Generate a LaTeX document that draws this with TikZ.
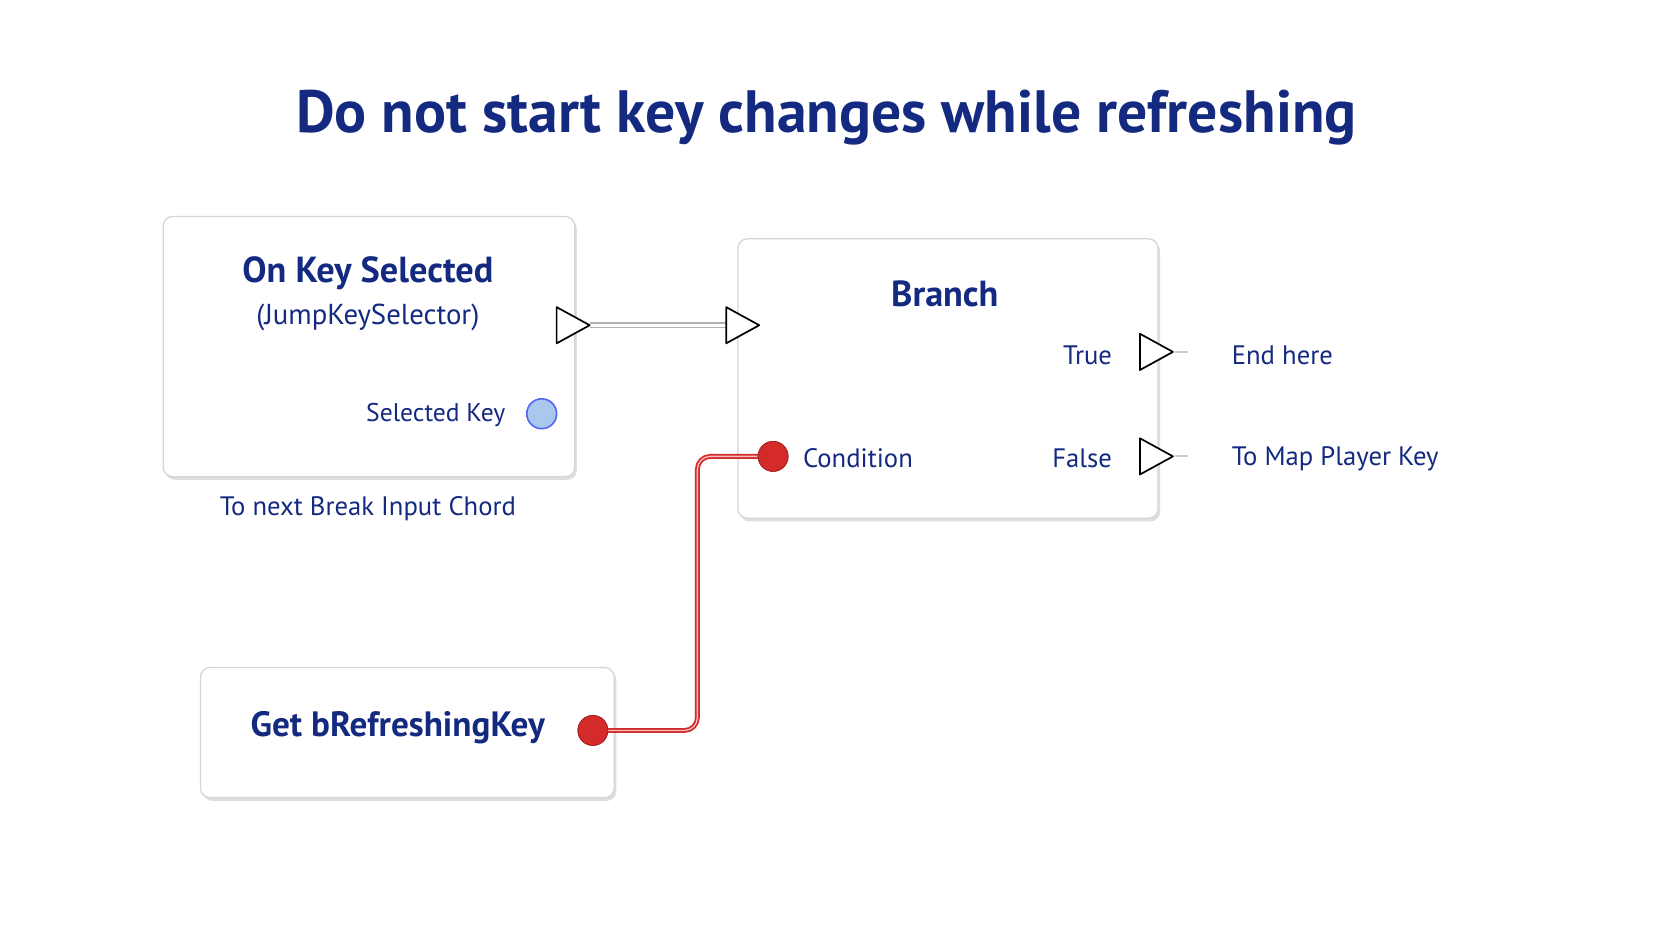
\documentclass[tikz,border=0pt]{standalone}
\usepackage{fontspec}
\setmainfont{PT Sans}
\usetikzlibrary{shadows}
\definecolor{navy}{HTML}{142A80}
\definecolor{pinred}{HTML}{D42A2A}
\definecolor{pinblue}{HTML}{A9C8EE}
\definecolor{bord}{HTML}{D4D6DC}
\begin{document}
\begin{tikzpicture}[x=1pt,y=-1pt,
  box/.style={draw=bord,line width=1.2pt,rounded corners=9pt,fill=white,
    drop shadow={shadow xshift=2pt,shadow yshift=-3pt,fill=black!25,opacity=0.5}},
  txt/.style={text=navy,inner sep=0pt},
  exec/.style={draw=black,line width=1.6pt,fill=white,line join=round},
  redpin/.style={circle,draw=pinred!80!black,fill=pinred,minimum size=28pt,inner sep=0pt,line width=0.8pt},
  bluepin/.style={circle,draw=pinblue!50!blue,fill=pinblue,minimum size=28pt,inner sep=0pt,line width=1.5pt}]
\useasboundingbox[fill=white] (0,0) rectangle (1568,882);
\node[txt,font=\fontsize{56}{64}\selectfont\bfseries] (title) at (775,110) {Do not start key changes while refreshing};
% boxes
\draw[box] (153,203) rectangle (539,447);
\draw[box] (692,224) rectangle (1086,486);
\draw[box] (188,626) rectangle (576,748);
% box1 text
\node[txt,font=\fontsize{34}{40}\selectfont\bfseries] (t1) at (345,256) {On Key Selected};
\node[txt,font=\fontsize{27}{32}\selectfont] (t1b) at (345,298) {(JumpKeySelector)};
\node[txt,font=\fontsize{24}{28}\selectfont,anchor=east] (sk) at (474,389) {Selected Key};
\node[bluepin] (skpin) at (508,388) {};
\node[txt,font=\fontsize{25}{30}\selectfont] (nx) at (345,477) {To next Break Input Chord};
% exec pins
\coordinate (eo) at (553,305);
\coordinate (ei) at (681,305);
\draw[line width=6pt,black!30] (eo) -- (ei);
\draw[line width=2.5pt,white] (eo) -- (ei);
\draw[exec] (522,288) -- (553,305) -- (522,322) -- cycle;
\draw[exec] (681,288) -- (712,305) -- (681,322) -- cycle;
% branch
\node[txt,font=\fontsize{34}{40}\selectfont\bfseries] (br) at (886,276) {Branch};
\node[txt,font=\fontsize{25}{30}\selectfont,anchor=east] (tr) at (1043,333) {True};
\node[txt,font=\fontsize{25}{30}\selectfont,anchor=east] (fa) at (1043,430) {False};
\draw[exec] (1069,313) -- (1100,330) -- (1069,347) -- cycle;
\draw[exec] (1069,411) -- (1100,428) -- (1069,445) -- cycle;
\coordinate (ts) at (1102,330); \coordinate (te) at (1114,330);
\coordinate (fs) at (1102,428); \coordinate (fe) at (1114,428);
\draw[black!20,line width=2pt] (ts) -- (te);
\draw[black!20,line width=2pt] (fs) -- (fe);
\node[txt,font=\fontsize{25}{30}\selectfont,anchor=west] (eh) at (1155,333) {End here};
\node[txt,font=\fontsize{25}{30}\selectfont,anchor=west] (mp) at (1155,430) {To Map Player Key};
% condition
\node[redpin] (cpin) at (725,428) {};
\node[txt,font=\fontsize{25}{30}\selectfont,anchor=west] (cond) at (753,430) {Condition};
% get node
\node[txt,font=\fontsize{33}{40}\selectfont\bfseries] (gt) at (373,682) {Get bRefreshingKey};
\node[redpin] (gpin) at (556,685) {};
\draw[pinred,line width=4.5pt,rounded corners=12pt] (gpin.center) -- (654,685) -- (654,428) -- (cpin.center);
\draw[pinred!30,line width=1.2pt,rounded corners=12pt] (gpin.east) -- (654,685) -- (654,428) -- (cpin.west);
\node[redpin] at (gpin) {};
\node[redpin] at (cpin) {};
\end{tikzpicture}
\end{document}
